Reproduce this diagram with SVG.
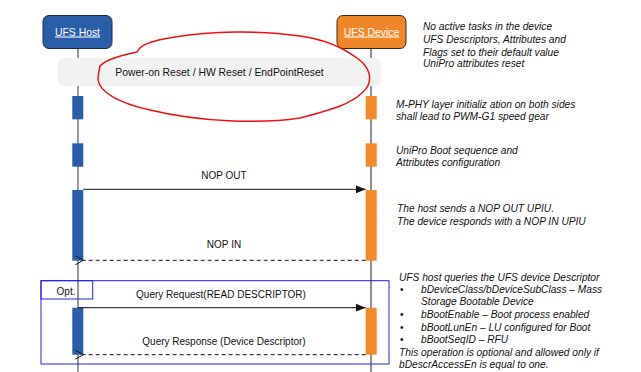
<svg xmlns="http://www.w3.org/2000/svg" width="641" height="372" viewBox="0 0 641 372">
<style>
.lbl{font-family:"Liberation Sans",Arial,sans-serif;font-size:10px;fill:#111;text-anchor:middle}
.note{font-family:"Liberation Sans",Arial,sans-serif;font-size:10.2px;font-style:italic;fill:#111}
.head{font-family:"Liberation Sans",Arial,sans-serif;font-size:10.4px;fill:#fff;text-anchor:middle;text-decoration:underline}
.hb{fill:#2a5ea8}
.db{fill:#f28a2b}
.msg{stroke:#111;stroke-width:1;fill:none}
.dash{stroke-dasharray:4 3}
</style>
<defs>
<marker id="filled" viewBox="0 0 10 10" refX="10" refY="5" markerWidth="10" markerHeight="10" markerUnits="userSpaceOnUse" orient="auto">
<path d="M0,1 L10,5 L0,9 Z" fill="#111"/>
</marker>
<marker id="open" viewBox="0 0 10 10" refX="1" refY="5" markerWidth="10" markerHeight="10" markerUnits="userSpaceOnUse" orient="auto">
<path d="M9,0.5 L1,5 L9,9.5" fill="none" stroke="#111" stroke-width="1"/>
</marker>
</defs>
<rect width="641" height="372" fill="#fff"/>
<g id="lifelines">
<line x1="78" y1="48" x2="78" y2="372" stroke="#777" stroke-width="1.5"/>
<line x1="371" y1="49" x2="371" y2="372" stroke="#222" stroke-width="1"/>
</g>
<g id="reset-band">
<rect x="58" y="58" width="323" height="28" rx="6" fill="#f2f2f2"/>
<text class="lbl" x="219.5" y="76" style="font-size:10.4px">Power-on Reset / HW Reset / EndPointReset</text>
</g>
<g id="ufs-host">
<rect x="43" y="15.5" width="69" height="33" rx="6" fill="#2a5ea8" stroke="#1b2a40" stroke-width="1"/>
<text class="head" x="77.5" y="35.5">UFS Host</text>
</g>
<g id="ufs-device">
<rect x="337" y="15.5" width="69" height="33" rx="6" fill="#f0862a" stroke="#3a2a1a" stroke-width="1"/>
<text class="head" x="371.5" y="35.5">UFS Device</text>
</g>
<g id="activations">
<rect class="hb" x="72.3" y="96" width="11" height="23.3"/>
<rect class="hb" x="72.3" y="143.3" width="11" height="23.4"/>
<rect class="hb" x="72.3" y="190" width="11" height="70.7"/>
<rect class="hb" x="72.3" y="307.7" width="11" height="47"/>
<rect class="db" x="365.7" y="96" width="11" height="23.3"/>
<rect class="db" x="365.7" y="143.3" width="11" height="23.4"/>
<rect class="db" x="365.7" y="190" width="11" height="70.7"/>
<rect class="db" x="365.7" y="307.7" width="11" height="47"/>
</g>
<g id="opt-frame">
<rect x="41" y="280.7" width="348" height="83.3" fill="none" stroke="#2020ee" stroke-width="1"/>
<rect x="41" y="280.7" width="51.7" height="18.3" fill="none" stroke="#2020ee" stroke-width="1"/>
<text class="lbl" x="66" y="295">Opt.</text>
</g>
<g id="connectors">
<line class="msg" x1="83.3" y1="189.3" x2="365.7" y2="189.3" marker-end="url(#filled)"/>
<line class="msg dash" x1="365.7" y1="260.3" x2="83.3" y2="260.3" marker-end="url(#open)"/>
<line class="msg" x1="78" y1="307.7" x2="365.7" y2="307.7" marker-end="url(#filled)"/>
<line class="msg dash" x1="365.7" y1="354.7" x2="83.3" y2="354.7" marker-end="url(#open)"/>
<text class="lbl" x="224" y="179">NOP OUT</text>
<text class="lbl" x="224" y="248">NOP IN</text>
<text class="lbl" x="221" y="298">Query Request(READ DESCRIPTOR)</text>
<text class="lbl" x="224" y="345">Query Response (Device Descriptor)</text>
</g>
<g id="notes">
<text class="note" x="423" y="30">No active tasks in the device</text>
<text class="note" x="423" y="42.5">UFS Descriptors, Attributes and</text>
<text class="note" x="423" y="55.5">Flags set to their default value</text>
<text class="note" x="423" y="67">UniPro attributes reset</text>
<text class="note" x="396" y="108">M-PHY layer initializ ation on both sides</text>
<text class="note" x="396" y="120">shall lead to PWM-G1 speed gear</text>
<text class="note" x="396" y="154">UniPro Boot sequence and</text>
<text class="note" x="396" y="166">Attributes configuration</text>
<text class="note" x="397" y="212">The host sends a NOP OUT UPIU.</text>
<text class="note" x="397" y="225">The device responds with a NOP IN UPIU</text>
<text class="note" x="399" y="280.5">UFS host queries the UFS device Descriptor</text>
<text class="note" x="400" y="293" style="font-style:normal">•</text>
<text class="note" x="421" y="293">bDeviceClass/bDeviceSubClass – Mass</text>
<text class="note" x="421" y="305">Storage Bootable Device</text>
<text class="note" x="400" y="318" style="font-style:normal">•</text>
<text class="note" x="421" y="318">bBootEnable – Boot process enabled</text>
<text class="note" x="400" y="331" style="font-style:normal">•</text>
<text class="note" x="421" y="331">bBootLunEn – LU configured for Boot</text>
<text class="note" x="400" y="343" style="font-style:normal">•</text>
<text class="note" x="421" y="343">bBootSeqID – RFU</text>
<text class="note" x="399" y="355.5">This operation is optional and allowed only if</text>
<text class="note" x="399" y="368">bDescrAccessEn is equal to one.</text>
</g>
<path d="M100,66 C108,58 125,55 137,52 C140,45 150,41 175,37 C210,31 260,30 300,36 C330,40 350,52 362,62 C372,72 372,84 363,92 C350,105 330,110 300,118 C260,124 200,122 150,110 C118,103 100,92 98,80 C98,74 99,70 100,66 Z" fill="none" stroke="#ee1111" stroke-width="1.5"/>
</svg>
